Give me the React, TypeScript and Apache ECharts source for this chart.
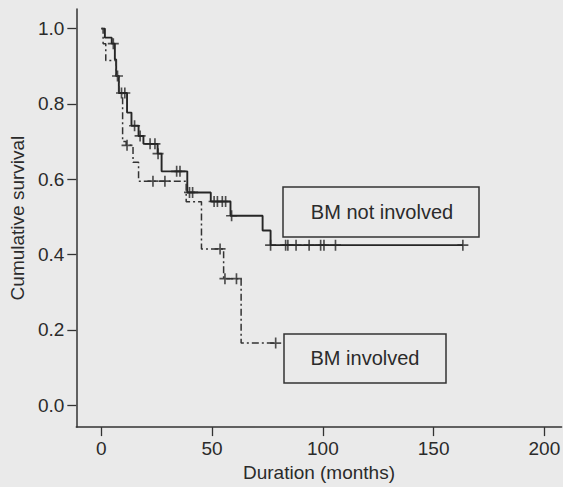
import React, { useEffect, useRef } from "react";
import * as echarts from "echarts";

// BM not involved (solid) — event times (months) and survival after each step
const notInvolvedTimes = [0, 1.6, 4.7, 6.1, 6.7, 7.9, 11.6, 13.6, 16.8, 19, 25.4, 27.2, 38.8, 49.4, 58.3, 72.8, 76.4, 163.2];
const notInvolvedSurv = [1.0, 0.976, 0.96, 0.918, 0.874, 0.829, 0.777, 0.742, 0.715, 0.694, 0.668, 0.621, 0.565, 0.541, 0.503, 0.464, 0.425, 0.425];
const notInvolvedCensored = [5.4, 7.3, 9.1, 10.6, 15, 17.5, 22, 24.2, 25.6, 34, 35.5, 39.8, 41.2, 50.9, 52.4, 54.6, 56.1, 58.8, 76.4, 83.2, 84.2, 87.9, 93.8, 99, 100.5, 105.7, 163.2];

// BM involved (dash-dot)
const involvedTimes = [0, 0.8, 2.0, 6.7, 7.9, 9.6, 11.2, 14.3, 16.8, 38.3, 45.2, 55.2, 63.1, 78.7];
const involvedSurv = [1.0, 0.96, 0.915, 0.874, 0.829, 0.70, 0.69, 0.645, 0.595, 0.54, 0.415, 0.336, 0.165, 0.165];
const involvedCensored = [11.6, 23.3, 28.7, 53.6, 55.8, 61, 78.7];

const xTicks = [0, 50, 100, 150, 200];
const yTicks = [0, 0.2, 0.4, 0.6, 0.8, 1.0];

const seriesLabels = ["BM not involved", "BM involved"];

const FONT = "'Liberation Sans', Arial, Helvetica, sans-serif";
const INK = "#2b2b2b";
const PLUS = "path://M8.5,0 H11.5 V8.5 H20 V11.5 H11.5 V20 H8.5 V11.5 H0 V8.5 H8.5 Z";

function survAt(times: number[], surv: number[], t: number) {
  let s = surv[0];
  for (let i = 0; i < times.length; i++) if (times[i] <= t) s = surv[i];
  return s;
}

export default function App() {
  const ref = useRef<HTMLDivElement>(null);
  useEffect(() => {
    if (!ref.current) return;
    const chart = echarts.init(ref.current, null, { renderer: "svg" });
    const lineA = notInvolvedTimes.map((t, i) => [t, notInvolvedSurv[i]]);
    const lineB = involvedTimes.map((t, i) => [t, involvedSurv[i]]);
    const censA = notInvolvedCensored.map((t) => [t, survAt(notInvolvedTimes, notInvolvedSurv, t)]);
    const censB = involvedCensored.map((t) => [t, survAt(involvedTimes, involvedSurv, t)]);
    chart.setOption({
      animation: false,
      backgroundColor: "#eaeaea",
      textStyle: { fontFamily: FONT },
      grid: { left: 70, right: 0, top: 9, bottom: 54, containLabel: false },
      xAxis: {
        type: "value",
        min: -11.3,
        max: 207.8,
        name: "Duration (months)",
        nameLocation: "middle",
        nameGap: 34,
        nameTextStyle: { fontSize: 19, color: INK, fontFamily: FONT },
        axisLine: { show: true, onZero: false, lineStyle: { color: "#333", width: 1.5 } },
        axisTick: { show: true, length: 9, customValues: xTicks, lineStyle: { color: "#333", width: 1.3 } },
        axisLabel: { customValues: xTicks, fontSize: 19, color: INK, margin: 12, fontFamily: FONT },
        splitLine: { show: false },
      },
      yAxis: {
        type: "value",
        min: -0.058,
        max: 1.052,
        name: "Cumulative survival",
        nameLocation: "middle",
        nameGap: 47,
        nameTextStyle: { fontSize: 19, color: INK, fontFamily: FONT },
        axisLine: { show: true, onZero: false, lineStyle: { color: "#333", width: 1.5 } },
        axisTick: { show: true, length: 9, customValues: yTicks, lineStyle: { color: "#333", width: 1.3 } },
        axisLabel: {
          customValues: yTicks,
          fontSize: 19,
          color: INK,
          margin: 12,
          fontFamily: FONT,
          formatter: (v: number) => v.toFixed(1),
        },
        splitLine: { show: false },
      },
      series: [
        {
          name: seriesLabels[0],
          type: "line",
          step: "end",
          data: lineA,
          symbol: "none",
          lineStyle: { color: "#262626", width: 1.9 },
        },
        {
          name: seriesLabels[1],
          type: "line",
          step: "end",
          data: lineB,
          symbol: "none",
          lineStyle: { color: "#333", width: 1.5, type: [7, 3, 2, 3] },
        },
        {
          type: "scatter",
          data: censA,
          symbol: PLUS,
          symbolSize: 11,
          itemStyle: { color: "#262626" },
        },
        {
          type: "scatter",
          data: censB,
          symbol: PLUS,
          symbolSize: 11,
          itemStyle: { color: "#262626" },
        },
      ],
      graphic: [
        {
          type: "rect",
          shape: { x: 283, y: 187, width: 196, height: 50 },
          style: { fill: "none", stroke: "#333", lineWidth: 1.5 },
        },
        {
          type: "text",
          x: 382,
          y: 212,
          style: { text: seriesLabels[0], fontSize: 20, fill: INK, align: "center", verticalAlign: "middle", fontFamily: FONT },
        },
        {
          type: "rect",
          shape: { x: 284, y: 334, width: 162, height: 49 },
          style: { fill: "none", stroke: "#333", lineWidth: 1.5 },
        },
        {
          type: "text",
          x: 365,
          y: 358,
          style: { text: seriesLabels[1], fontSize: 20, fill: INK, align: "center", verticalAlign: "middle", fontFamily: FONT },
        },
      ],
    });
    return () => chart.dispose();
  }, []);
  return (
    <div
      ref={ref}
      style={{ position: "fixed", left: 0, top: 0, width: 563, height: 487, background: "#eaeaea" }}
    />
  );
}
